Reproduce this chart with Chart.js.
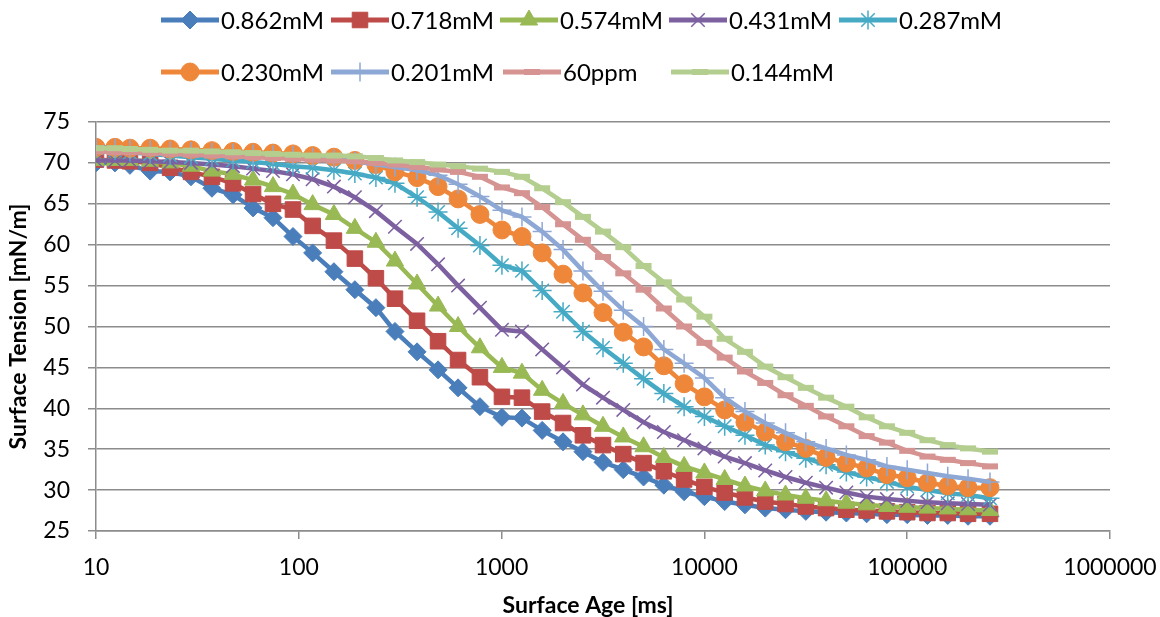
<!DOCTYPE html>
<html>
<head>
<meta charset="utf-8">
<script src="https://cdn.jsdelivr.net/npm/chart.js@4.4.1/dist/chart.umd.min.js"></script>
<style>
  html, body { margin: 0; padding: 0; background: #fff; overflow: hidden; }
  #wrap { width: 1160px; height: 626px; }
</style>
</head>
<body>
<div id="wrap"><canvas id="tensionChart"></canvas></div>
<script>
// bubble surface age [ms]
const surfaceAge = [10, 12.4, 14.7, 18.5, 23.2, 29.4, 37.3, 47.4, 59.5, 74.6,
  93.6, 117, 149, 189, 240, 298, 383, 486, 610, 782,
  1004, 1260, 1585, 2009, 2518, 3162, 3981, 5012, 6310, 7943,
  10000, 12589, 15849, 19953, 25119, 31623, 39811, 50119, 63096, 79433,
  100000, 125893, 158489, 199526, 256000];

const seriesLabels = ['0.862mM', '0.718mM', '0.574mM', '0.431mM', '0.287mM',
  '0.230mM', '0.201mM', '60ppm', '0.144mM'];

// surface tension [mN/m]
const st0862 = [70.0, 70.0, 69.7, 69.0, 68.9, 68.3, 66.9, 66.1, 64.5, 63.3,
  61.0, 59.0, 56.7, 54.5, 52.3, 49.4, 46.9, 44.7, 42.5, 40.2,
  38.9, 38.8, 37.3, 35.9, 34.7, 33.4, 32.5, 31.6, 30.6, 29.8,
  29.2, 28.6, 28.2, 27.8, 27.6, 27.4, 27.3, 27.2, 27.1, 27.0,
  27.0, 26.9, 26.9, 26.8, 26.8];
const st0718 = [70.4, 70.3, 70.2, 70.0, 69.4, 68.9, 68.3, 67.5, 66.2, 65.0,
  64.3, 62.3, 60.5, 58.3, 55.9, 53.4, 50.7, 48.2, 45.9, 43.8,
  41.4, 41.3, 39.6, 38.2, 36.7, 35.5, 34.4, 33.3, 32.3, 31.3,
  30.4, 29.7, 29.1, 28.6, 28.3, 28.0, 27.8, 27.6, 27.5, 27.4,
  27.3, 27.2, 27.2, 27.1, 27.1];
const st0574 = [70.3, 70.3, 70.3, 70.2, 70.0, 69.6, 69.0, 68.6, 67.9, 67.1,
  66.2, 64.9, 63.7, 62.0, 60.3, 58.0, 55.2, 52.5, 50.0, 47.4,
  45.0, 44.3, 42.2, 40.6, 39.2, 37.8, 36.5, 35.3, 34.0, 32.9,
  32.1, 31.3, 30.5, 29.9, 29.4, 29.0, 28.7, 28.4, 28.2, 28.0,
  27.9, 27.8, 27.7, 27.6, 27.5];
const st0431 = [70.3, 70.3, 70.3, 70.2, 70.1, 70.0, 69.8, 69.6, 69.3, 69.0,
  68.6, 68.0, 67.1, 65.8, 64.1, 62.2, 60.1, 57.6, 55.0, 52.3,
  49.6, 49.4, 47.2, 45.0, 42.9, 41.3, 39.8, 38.3, 37.1, 36.1,
  35.1, 34.1, 33.3, 32.4, 31.6, 30.9, 30.3, 29.7, 29.2, 28.9,
  28.7, 28.5, 28.4, 28.3, 28.2];
const st0287 = [71.8, 71.5, 71.3, 71.1, 70.9, 70.7, 70.5, 70.3, 70.1, 69.9,
  69.6, 69.4, 69.1, 68.7, 68.2, 67.5, 65.8, 64.0, 62.0, 59.9,
  57.5, 56.8, 54.4, 51.8, 49.4, 47.4, 45.5, 43.6, 41.8, 40.2,
  39.0, 37.8, 36.7, 35.5, 34.7, 33.9, 33.1, 32.2, 31.6, 31.0,
  30.4, 30.0, 29.6, 29.4, 29.0];
const st0230 = [71.9, 71.9, 71.8, 71.8, 71.7, 71.6, 71.5, 71.4, 71.3, 71.2,
  71.1, 70.9, 70.7, 70.3, 69.8, 68.9, 68.2, 67.1, 65.6, 63.7,
  61.8, 61.0, 59.0, 56.4, 54.1, 51.7, 49.3, 47.5, 45.2, 43.0,
  41.4, 39.8, 38.3, 37.1, 35.9, 35.1, 34.0, 33.3, 32.7, 31.9,
  31.5, 30.9, 30.5, 30.3, 30.3];
const st0201 = [71.9, 71.8, 71.7, 71.6, 71.5, 71.4, 71.3, 71.2, 71.1, 71.0,
  70.9, 70.7, 70.5, 70.2, 69.8, 69.5, 69.1, 68.5, 67.4, 65.9,
  64.2, 63.4, 61.6, 59.4, 56.8, 54.3, 52.0, 50.0, 47.2, 45.5,
  43.7, 41.3, 39.6, 38.2, 37.0, 35.9, 35.1, 34.3, 33.7, 32.9,
  32.5, 32.1, 31.7, 31.4, 31.0];
const st60ppm = [71.4, 71.3, 71.3, 71.2, 71.1, 71.0, 70.9, 70.8, 70.7, 70.6,
  70.5, 70.4, 70.3, 70.2, 70.0, 69.8, 69.5, 69.2, 68.9, 68.3,
  67.0, 66.3, 64.6, 62.5, 60.6, 58.5, 56.5, 54.5, 52.2, 50.0,
  48.0, 46.2, 44.5, 43.1, 41.6, 40.3, 39.0, 37.8, 36.6, 35.8,
  34.8, 34.1, 33.7, 33.3, 32.9];
const st0144 = [71.8, 71.8, 71.7, 71.6, 71.5, 71.5, 71.4, 71.3, 71.2, 71.1,
  71.0, 70.9, 70.9, 70.8, 70.6, 70.3, 70.1, 69.8, 69.6, 69.3,
  68.9, 68.3, 66.9, 65.2, 63.4, 61.6, 59.7, 57.4, 55.4, 53.3,
  51.2, 48.5, 46.9, 45.1, 43.8, 42.5, 41.3, 40.2, 38.9, 37.8,
  37.0, 36.1, 35.5, 35.1, 34.7];

const xTicks = [10, 100, 1000, 10000, 100000, 1000000];

const allSeries = [st0862, st0718, st0574, st0431, st0287, st0230, st0201, st60ppm, st0144];

// line colour and marker for each series
const looks = [
  { color: '#4A7EBB', marker: 'rectRot', r: 9, bw: 1 },
  { color: '#BE4B48', marker: 'rect', r: 11, bw: 1 },
  { color: '#98B954', marker: 'triangle', r: 10, bw: 1 },
  { color: '#7D60A0', marker: 'crossRot', r: 9.5, bw: 1.5 },
  { color: '#46AAC5', marker: 'star', r: 9.5, bw: 1.5 },
  { color: '#EE873A', marker: 'circle', r: 9, bw: 1 },
  { color: '#8EA8D5', marker: 'cross', r: 9.5, bw: 1.5 },
  { color: '#D59391', marker: 'line', r: 8, bw: 6 },
  { color: '#B3CE8F', marker: 'line', r: 8, bw: 6 }
];

const FONT = 'Lato';

const datasets = allSeries.map((vals, i) => ({
  label: seriesLabels[i],
  data: vals.map((v, j) => ({ x: surfaceAge[j], y: v })),
  borderColor: looks[i].color,
  backgroundColor: looks[i].color,
  borderWidth: 4.5,
  pointStyle: looks[i].marker,
  pointRadius: looks[i].r,
  pointBorderWidth: looks[i].bw,
  pointBackgroundColor: looks[i].color,
  pointBorderColor: looks[i].color,
  tension: 0,
  order: allSeries.length - i
}));

// two-row legend with line + marker samples, plus the x axis caption
const legendCols = [[161, 331, 500, 669, 839], [161, 331, 503, 671]];
const legendRowsY = [20, 72];

const lineLegend = {
  id: 'lineLegend',
  afterDraw(chart) {
    const ctx = chart.ctx;
    ctx.save();
    chart.data.datasets.forEach((ds, i) => {
      const row = i < 5 ? 0 : 1;
      const col = i < 5 ? i : i - 5;
      const x0 = legendCols[row][col];
      const y = legendRowsY[row];
      ctx.strokeStyle = ds.borderColor;
      ctx.lineWidth = 5;
      ctx.lineCap = 'butt';
      ctx.beginPath();
      ctx.moveTo(x0, y);
      ctx.lineTo(x0 + 58, y);
      ctx.stroke();
      ctx.fillStyle = ds.pointBackgroundColor;
      ctx.strokeStyle = ds.pointBorderColor;
      ctx.lineWidth = ds.pointBorderWidth;
      Chart.helpers.drawPoint(ctx, {
        pointStyle: ds.pointStyle,
        radius: ds.pointRadius,
        borderWidth: ds.pointBorderWidth,
        rotation: 0
      }, x0 + 29, y);
      ctx.fillStyle = '#000';
      ctx.font = '24px ' + FONT;
      ctx.textBaseline = 'middle';
      ctx.textAlign = 'left';
      ctx.fillText(ds.label, x0 + 60, y + 1);
    });

    ctx.font = 'bold 23px ' + FONT;
    ctx.textAlign = 'center';
    ctx.textBaseline = 'middle';
    ctx.fillStyle = '#000';
    ctx.fillText('Surface Age [ms]', 588, 606);
    ctx.restore();
  }
};

new Chart(document.getElementById('tensionChart'), {
  type: 'line',
  data: { datasets: datasets },
  plugins: [lineLegend],
  options: {
    responsive: true,
    maintainAspectRatio: false,
    animation: false,
    layout: { padding: { top: 122, right: 50, bottom: 0, left: 0 } },
    plugins: {
      legend: { display: false },
      tooltip: { enabled: false }
    },
    scales: {
      x: {
        type: 'logarithmic',
        min: 10,
        max: 1000000,
        afterBuildTicks: scale => { scale.ticks = xTicks.map(v => ({ value: v })); },
        afterFit: scale => {
          scale.height = 95;
          scale.paddingRight = 0;
        },
        ticks: {
          callback: v => String(v),
          color: '#000',
          font: { family: FONT, size: 23 },
          padding: 15,
          maxRotation: 0,
          autoSkip: false
        },
        grid: {
          drawOnChartArea: false,
          drawTicks: true,
          tickLength: 8,
          color: '#8C8C8C',
          lineWidth: 1.5
        },
        border: { display: true, color: '#8C8C8C', width: 1.5 }
      },
      y: {
        min: 25,
        max: 75,
        afterFit: scale => { scale.width = 96; },
        ticks: {
          stepSize: 5,
          color: '#000',
          font: { family: FONT, size: 23 },
          padding: 18
        },
        grid: {
          color: '#8C8C8C',
          lineWidth: 1.5,
          tickLength: 8
        },
        border: { display: true, color: '#8C8C8C', width: 1.5 },
        title: {
          display: true,
          text: 'Surface Tension [mN/m]',
          color: '#000',
          font: { family: FONT, size: 23, weight: 'bold' },
          padding: { top: 5, bottom: 0 }
        }
      }
    }
  }
});
</script>
</body>
</html>
